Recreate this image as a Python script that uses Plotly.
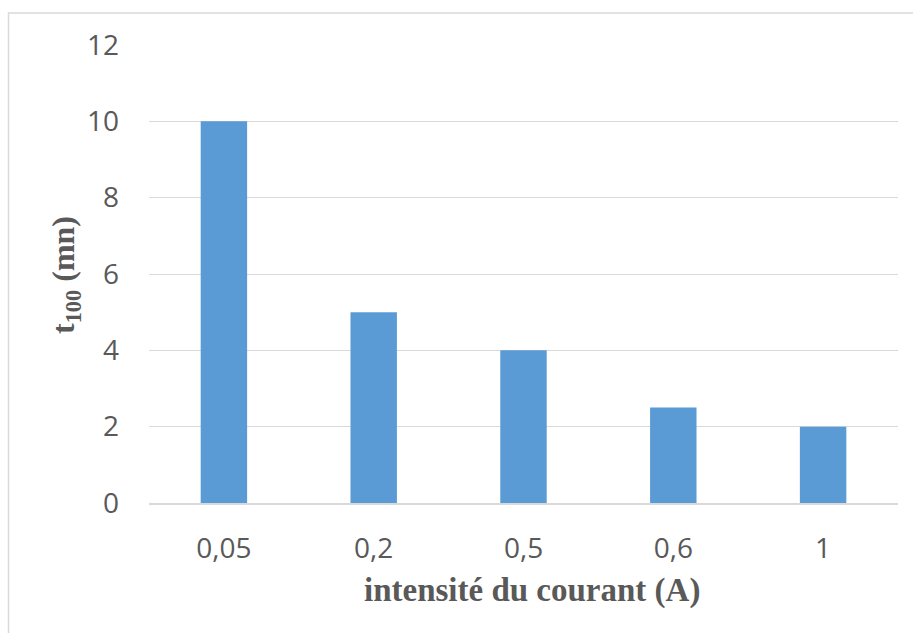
import plotly.graph_objects as go

# Temps t100 en fonction de l'intensité du courant
intensites = ["0,05", "0,2", "0,5", "0,6", "1"]
t100_mn = [10, 5, 4, 2.5, 2]
y_ticks = [0, 2, 4, 6, 8, 10, 12]

W, H = 913, 633
ML, MR, MT, MB = 149, 15, 45, 130
PW, PH = W - ML - MR, H - MT - MB


def px_x(px):
    return (px - ML) / PW


def px_y(py):
    return (H - MB - py) / PH


TXT = "#595959"
GRID = "#d9d9d9"

fig = go.Figure(
    go.Bar(
        x=intensites,
        y=t100_mn,
        width=0.31,
        marker=dict(color="#5b9bd5", line=dict(width=0)),
    )
)

fig.update_layout(
    width=W,
    height=H,
    margin=dict(l=ML, r=MR, t=MT, b=MB, pad=0),
    paper_bgcolor="white",
    plot_bgcolor="white",
    showlegend=False,
    font=dict(family="Open Sans", color=TXT),
    xaxis=dict(
        type="category",
        showgrid=False,
        showline=True,
        linecolor=GRID,
        linewidth=1.5,
        ticks="",
        tickfont=dict(family="Open Sans", size=28, color=TXT),
        ticklabelstandoff=20,
    ),
    yaxis=dict(
        range=[0, 12],
        tickvals=y_ticks,
        showgrid=True,
        gridcolor=GRID,
        gridwidth=1.4,
        zeroline=False,
        showline=False,
        ticks="",
        tickfont=dict(family="Open Sans", size=28, color=TXT),
        ticklabelstandoff=29,
    ),
    annotations=[
        dict(
            text="<b>t<sub>100</sub> (mn)</b>",
            xref="paper", yref="paper",
            x=px_x(65), y=px_y(275),
            xanchor="center", yanchor="middle",
            textangle=-90,
            showarrow=False,
            font=dict(family="Liberation Serif", size=32, color=TXT),
        ),
        dict(
            text="<b>intensité du courant (A)</b>",
            xref="paper", yref="paper",
            x=px_x(532), y=px_y(590),
            xanchor="center", yanchor="middle",
            showarrow=False,
            font=dict(family="Liberation Serif", size=33, color=TXT),
        ),
    ],
    shapes=[
        dict(
            type="rect",
            xref="paper", yref="paper",
            x0=px_x(8.5), x1=px_x(W + 20),
            y0=px_y(H + 20), y1=px_y(13),
            line=dict(color=GRID, width=1.5),
            fillcolor="rgba(0,0,0,0)",
            layer="below",
        )
    ],
)

fig.write_html("out.html")
